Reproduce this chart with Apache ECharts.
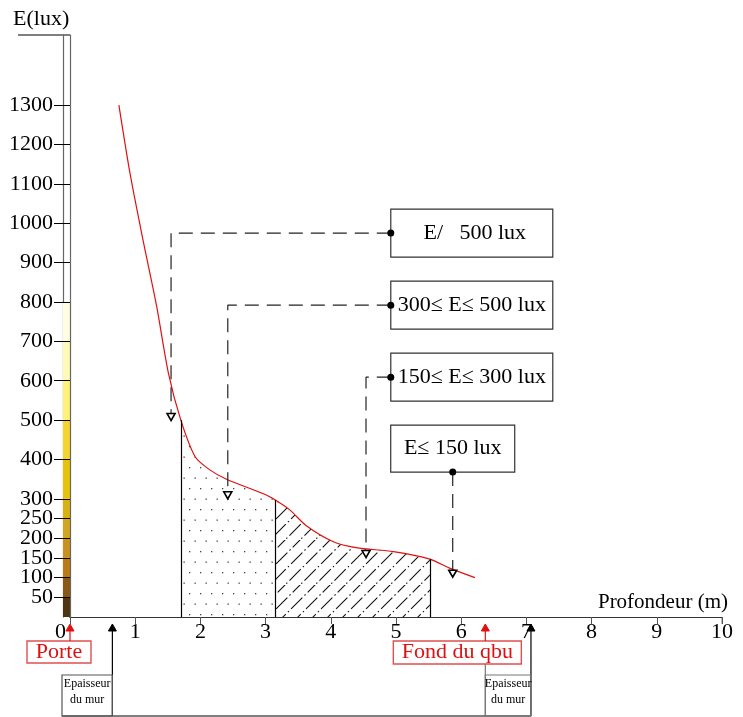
<!DOCTYPE html>
<html><head><meta charset="utf-8">
<script src="https://cdn.jsdelivr.net/npm/echarts@6/dist/echarts.min.js"></script>
<style>html,body{margin:0;padding:0;background:#fff}#c{width:743px;height:717px}</style>
</head><body><div id="c"></div>
<script>
// ---- data ----
const curveX = [0.75, 0.92, 1.12, 1.33, 1.51, 1.70, 1.92, 2.15, 2.40, 3.01, 3.15, 3.37, 3.63, 4.04, 4.39, 4.96, 5.52, 5.82, 6.21];
const curveY = [1300, 1127, 957, 788, 619, 500, 407, 373, 350, 310, 297, 272, 231, 191, 176, 166, 147, 124, 100];
const dottedZone = [1.70, 3.15];
const hatchedZone = [3.15, 5.52];
const yTickValues = [50, 100, 150, 200, 250, 300, 400, 500, 600, 700, 800, 900, 1000, 1100, 1200, 1300];
const bandEdges = [0, 50, 100, 150, 200, 250, 300, 400, 500, 600, 700, 800];
const bandColors = ['#4e3410', '#8a5812', '#bb7a18', '#c99220', '#d3a51e', '#d9b212', '#e7c20c', '#f6d42e', '#fff27a', '#fffab6', '#fffde2'];
const rangeLabels = ['E/   500 lux', '300≤ E≤ 500 lux', '150≤ E≤ 300 lux', 'E≤ 150 lux'];
const leaderFromX = [4.92, 4.92, 4.92, 5.87];
const leaderFromY = [975, 792, 609, 368];
const leaderToX = [1.55, 2.42, 4.54, 5.87];
const leaderToY = [508, 309, 160, 110];
const markerNames = ['Porte', 'Fond du qbu'];
const markerX = [0, 6.37];
const wallX = [0.65, 7.07];
const xLabel = 'Profondeur (m)';
const yLabel = 'E(lux)';

const FONT = "'Liberation Serif','Times New Roman',serif";
const RED = '#e01010';

// split tick labels over two label-only axes so that close labels are never dropped
const yLabelsA = yTickValues.filter((v, i) => i % 2 === 0);
const yLabelsB = yTickValues.filter((v, i) => i % 2 === 1);

function dotPattern() {
  const c = document.createElement('canvas'); c.width = 11; c.height = 21;
  const g = c.getContext('2d'); g.fillStyle = '#444';
  g.fillRect(2, 5, 1.3, 1.3); g.fillRect(7.5, 15.5, 1.3, 1.3);
  return c;
}
function hatchPattern() {
  const S = 45, c = document.createElement('canvas'); c.width = S; c.height = S;
  const g = c.getContext('2d'); g.strokeStyle = '#111'; g.lineWidth = 1.1;
  g.setLineDash([16, 3, 1.5, 3]);
  for (let k = -1; k <= 7; k++) {
    const cc = 15 * k;
    g.beginPath(); g.moveTo(cc + 4, -4); g.lineTo(-4, cc + 4); g.stroke();
  }
  return c;
}
function sub(a, b) {
  const out = [];
  curveX.forEach((x, i) => { if (x >= a - 1e-9 && x <= b + 1e-9) out.push([x, curveY[i]]); });
  return out;
}
function edgeY(x) { return curveY[curveX.indexOf(x)]; }

const chart = echarts.init(document.getElementById('c'), null, {renderer: 'canvas'});

const series = [];
bandColors.forEach((col, i) => {
  series.push({type: 'bar', xAxisIndex: 1, yAxisIndex: 1, stack: 'band', barWidth: '100%',
    data: [bandEdges[i + 1] - bandEdges[i]], itemStyle: {color: col}, silent: true, z: 1});
});
const SM = {smooth: 0.25};
series.push(Object.assign({type: 'line', data: sub(dottedZone[0], dottedZone[1]), symbol: 'none',
  lineStyle: {width: 0}, areaStyle: {color: {image: dotPattern(), repeat: 'repeat'}, opacity: 1}, z: 2,
  markLine: {silent: true, symbol: 'none', label: {show: false}, lineStyle: {color: '#000', width: 1.2, type: 'solid'},
    data: [[{coord: [dottedZone[0], 0]}, {coord: [dottedZone[0], edgeY(dottedZone[0])]}],
           [{coord: [dottedZone[1], 0]}, {coord: [dottedZone[1], edgeY(dottedZone[1])]}]]}}, SM));
series.push(Object.assign({type: 'line', data: sub(hatchedZone[0], hatchedZone[1]), symbol: 'none',
  lineStyle: {width: 0}, areaStyle: {color: {image: hatchPattern(), repeat: 'repeat'}, opacity: 1}, z: 2,
  markLine: {silent: true, symbol: 'none', label: {show: false}, lineStyle: {color: '#000', width: 1.2, type: 'solid'},
    data: [[{coord: [hatchedZone[1], 0]}, {coord: [hatchedZone[1], edgeY(hatchedZone[1])]}]]}}, SM));
series.push(Object.assign({type: 'line', data: curveX.map((x, i) => [x, curveY[i]]), symbol: 'none',
  lineStyle: {color: RED, width: 1.2}, z: 4}, SM));
rangeLabels.forEach((lab, i) => {
  const pts = [{value: [leaderFromX[i], leaderFromY[i]], symbol: 'circle', symbolSize: 7, itemStyle: {color: '#000'}}];
  if (leaderFromX[i] !== leaderToX[i]) pts.push({value: [leaderToX[i], leaderFromY[i]], symbol: 'none'});
  pts.push({value: [leaderToX[i], leaderToY[i]], symbol: 'triangle', symbolRotate: 180, symbolSize: [8, 7],
    itemStyle: {color: '#fff', borderColor: '#000', borderWidth: 1.6}});
  series.push({type: 'line', data: pts, showSymbol: true, symbol: 'none', z: 5,
    lineStyle: {color: '#222', width: 1.2, type: [14, 8]}});
});

const labelStyle = {fontFamily: FONT, fontSize: 22, color: '#000', margin: 17,
  showMinLabel: true, showMaxLabel: true, formatter: v => String(v)};

const option = {
  animation: false,
  backgroundColor: '#fff',
  grid: [
    {left: 70, right: 21, top: 35, bottom: 100},
    {left: 63, width: 7, top: 35, bottom: 100}
  ],
  xAxis: [
    {type: 'value', gridIndex: 0, min: 0, max: 10, interval: 1, z: 6,
      axisLine: {lineStyle: {color: '#333', width: 1.2}},
      axisTick: {length: 7, lineStyle: {color: '#555'}},
      splitLine: {show: false},
      axisLabel: {fontFamily: FONT, fontSize: 22, color: '#000', margin: 4, showMinLabel: true, showMaxLabel: true,
        formatter: v => v === 0 ? '{z|0}' : String(v),
        rich: {z: {fontFamily: FONT, fontSize: 22, color: '#000', padding: [0, 19, 0, 0]}}}},
    {type: 'category', gridIndex: 1, data: ['b'], show: false},
    {type: 'value', gridIndex: 0, min: 0, max: 10, position: 'bottom', offset: 7,
      axisLine: {show: true, lineStyle: {color: '#777', width: 1}}, axisTick: {show: false},
      axisLabel: {show: false}, splitLine: {show: false}}
  ],
  yAxis: [
    {type: 'value', gridIndex: 0, min: 0, max: 1478, z: 6,
      axisLine: {show: true, lineStyle: {color: '#666', width: 1.2}},
      axisTick: {show: true, length: 16, customValues: yTickValues, lineStyle: {color: '#000', width: 1}},
      axisLabel: Object.assign({customValues: yLabelsA}, labelStyle),
      splitLine: {show: false}},
    {type: 'value', gridIndex: 1, min: 0, max: 1478,
      axisLine: {show: true, lineStyle: {color: '#666', width: 1.2}}, axisTick: {show: false},
      axisLabel: {show: false}, splitLine: {show: false}},
    {type: 'value', gridIndex: 0, min: 0, max: 1478, position: 'left', offset: 0, z: 6,
      axisLine: {show: false}, axisTick: {show: false},
      axisLabel: Object.assign({customValues: yLabelsB}, labelStyle),
      splitLine: {show: false}}
  ],
  series: series
};
chart.setOption(option);

// ---- annotations positioned from data coordinates ----
const P = (x, y) => chart.convertToPixel({gridIndex: 0}, [x, y]);
const g = [];
const origin = P(0, 0), topPt = P(0, 1478), xEnd = P(10, 0);
g.push({type: 'line', shape: {x1: 18, y1: topPt[1], x2: origin[0], y2: topPt[1]}, style: {stroke: '#000', lineWidth: 1.2}});
g.push({type: 'text', x: 13, y: topPt[1] - 16, style: {text: yLabel, font: '22px ' + FONT, fill: '#000', textVerticalAlign: 'middle'}});
g.push({type: 'text', x: xEnd[0] + 6, y: origin[1] - 15, style: {text: xLabel, font: '21px ' + FONT, fill: '#000', textAlign: 'right', textVerticalAlign: 'middle'}});
g.push({type: 'line', shape: {x1: xEnd[0], y1: origin[1], x2: xEnd[0], y2: origin[1] + 7}, style: {stroke: '#777', lineWidth: 1}});
rangeLabels.forEach((lab, i) => {
  const d = P(leaderFromX[i], leaderFromY[i]);
  let x, y, w = 162, h = 48;
  if (i < 3) { x = d[0]; y = d[1] - h / 2; }
  else { w = 124; h = 47; x = d[0] - w / 2; y = d[1] - h; }
  g.push({type: 'rect', shape: {x: x, y: y, width: w, height: h}, z: 3,
    style: {fill: '#fff', stroke: '#333', lineWidth: 1.2}});
  g.push({type: 'text', x: x + w / 2 + (i === 0 ? 3 : 0), y: y + h / 2, z: 4,
    style: {text: lab, font: '22px ' + FONT, fill: '#000', textAlign: 'center', textVerticalAlign: 'middle'}});
});
const axisBottom = origin[1] + 7;
const baseY = 716;
function arrowUp(x, color, yFrom) {
  g.push({type: 'line', shape: {x1: x, y1: yFrom, x2: x, y2: axisBottom + 3}, style: {stroke: color, lineWidth: 1.2}});
  g.push({type: 'polygon', shape: {points: [[x, axisBottom], [x - 4, axisBottom + 7], [x + 4, axisBottom + 7]]},
    style: {fill: color, stroke: color, lineWidth: 1}});
}
const mk0 = P(markerX[0], 0)[0], mk1 = P(markerX[1], 0)[0];
const w0 = P(wallX[0], 0)[0], w1 = P(wallX[1], 0)[0];
g.push({type: 'rect', shape: {x: mk0 - 43, y: 641, width: 64, height: 22}, style: {fill: '#fff', stroke: '#e05050', lineWidth: 1.4}});
g.push({type: 'text', x: mk0 - 11, y: 652, style: {text: markerNames[0], font: '22px ' + FONT, fill: RED, textAlign: 'center', textVerticalAlign: 'middle'}});
arrowUp(mk0, RED, 641);
g.push({type: 'rect', shape: {x: mk1 - 92, y: 641, width: 128, height: 23}, style: {fill: '#fff', stroke: '#e05050', lineWidth: 1.4}});
g.push({type: 'text', x: mk1 - 28, y: 652.5, style: {text: markerNames[1], font: '22px ' + FONT, fill: RED, textAlign: 'center', textVerticalAlign: 'middle'}});
arrowUp(mk1, RED, 641);
g.push({type: 'line', shape: {x1: mk1, y1: 664, x2: mk1, y2: baseY}, style: {stroke: '#777', lineWidth: 1.2}});
arrowUp(w0, '#000', baseY);
arrowUp(w1, '#000', baseY);
g.push({type: 'line', shape: {x1: 62, y1: baseY, x2: w1, y2: baseY}, style: {stroke: '#555', lineWidth: 1.4}});
g.push({type: 'rect', shape: {x: 62, y: 675, width: w0 - 62, height: baseY - 675}, style: {fill: 'none', stroke: '#555', lineWidth: 1.2}});
g.push({type: 'rect', shape: {x: mk1, y: 675, width: w1 - mk1, height: baseY - 675}, style: {fill: 'none', stroke: '#777', lineWidth: 1.2}});
[[62, w0], [mk1, w1]].forEach(([a, b]) => {
  g.push({type: 'text', x: (a + b) / 2, y: 684, style: {text: 'Epaisseur', font: '12px ' + FONT, fill: '#000', textAlign: 'center', textVerticalAlign: 'middle'}});
  g.push({type: 'text', x: (a + b) / 2, y: 700, style: {text: 'du mur', font: '12px ' + FONT, fill: '#000', textAlign: 'center', textVerticalAlign: 'middle'}});
});
chart.setOption({graphic: {elements: g}});
</script>
</body></html>
